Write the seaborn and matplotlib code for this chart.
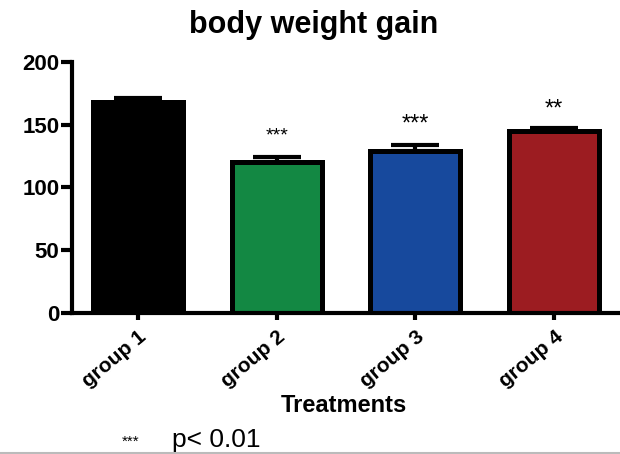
import matplotlib
matplotlib.use("Agg")
import matplotlib.pyplot as plt
from matplotlib.lines import Line2D
import pandas as pd
import seaborn as sns

groups = ["group 1", "group 2", "group 3", "group 4"]
gain = [168, 120, 129, 145]
sem = [3.5, 4.0, 4.5, 2.5]
stars = ["", "***", "***", "**"]
star_y = [0, 141, 150, 162]
star_size = [0, 14, 17, 17]
colors = ["#000000", "#138843", "#17499d", "#9c1c21"]

sns.set_theme(style="white")
plt.rcParams["font.family"] = ["Liberation Sans", "DejaVu Sans"]
plt.rcParams["text.color"] = "black"
plt.rcParams["xtick.color"] = "black"
plt.rcParams["ytick.color"] = "black"

df = pd.DataFrame({"group": groups, "gain": gain})

fig = plt.figure(figsize=(6.2, 4.54), dpi=100)
ax = fig.add_axes([0.116, 0.3106, 0.884, 0.553])

sns.barplot(data=df, x="group", y="gain", hue="group", palette=colors,
            order=groups, width=0.65, edgecolor="black", linewidth=3.6,
            saturation=1, legend=False, ax=ax)
ax.errorbar(range(len(groups)), gain, yerr=[[0] * 4, sem], fmt="none",
            ecolor="black", elinewidth=3, capsize=17, capthick=3, zorder=1)

for i, s in enumerate(stars):
    if s:
        ax.text(i, star_y[i], s, ha="center", va="center",
                fontsize=star_size[i])

ax.set_ylim(0, 200)
ax.set_xlim(-0.476, 3.475)
ax.set_yticks([0, 50, 100, 150, 200])
for side in ["top", "right"]:
    ax.spines[side].set_visible(False)
for side in ["left", "bottom"]:
    ax.spines[side].set_linewidth(3)
    ax.spines[side].set_color("black")
ax.tick_params(axis="y", direction="out", length=8, width=3, left=True,
               labelsize=16, pad=1)
ax.tick_params(axis="x", direction="out", length=5, width=3, bottom=True,
               labelsize=15, pad=5)
for lab in ax.get_yticklabels():
    lab.set_fontweight("bold")
for lab in ax.get_xticklabels():
    lab.set_fontweight("bold")
    lab.set_rotation(40)
    lab.set_ha("right")
    lab.set_rotation_mode("anchor")
ax.set_xlabel("")
ax.set_ylabel("")

fig.text(0.506, 0.927, "body weight gain", ha="center", va="baseline",
         fontsize=22, fontweight="bold")
fig.text(0.555, 0.0925, "Treatments", ha="center", va="baseline",
         fontsize=17, fontweight="bold")
fig.text(0.197, 0.028, "***", ha="left", va="center", fontsize=11)
fig.text(0.277, 0.016, "p< 0.01", ha="left", va="baseline", fontsize=19)
fig.add_artist(Line2D([0, 1], [0.002, 0.002], color="#bbbbbb", lw=1.5,
                      transform=fig.transFigure))

fig.savefig("out.png", dpi=100)
